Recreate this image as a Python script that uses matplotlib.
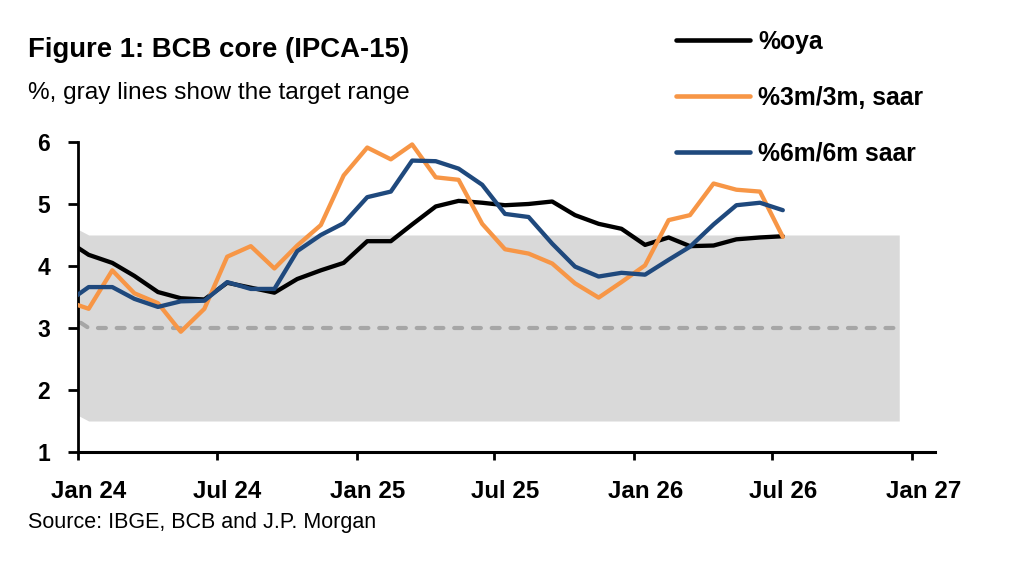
import matplotlib
matplotlib.use("Agg")
import matplotlib.pyplot as plt
import matplotlib.transforms as mtransforms
from matplotlib import font_manager
import pandas as pd

# IPCA-15 is collected mid-month, so points sit on the 15th
months = pd.date_range("2023-12-01", "2026-07-01", freq="MS") + pd.Timedelta(days=14)

oya = [4.43, 4.18, 4.05, 3.84, 3.58, 3.48, 3.46, 3.73, 3.65, 3.57, 3.79, 3.93, 4.05,
       4.40, 4.40, 4.67, 4.96, 5.05, 5.02, 4.98, 5.00, 5.04, 4.82, 4.68, 4.60,
       4.34, 4.46, 4.32, 4.33, 4.43, 4.46, 4.48]
saar_3m = [3.44, 3.31, 3.93, 3.56, 3.40, 2.94, 3.31, 4.15, 4.32, 3.96, 4.33, 4.66, 5.46,
           5.91, 5.72, 5.96, 5.43, 5.39, 4.68, 4.27, 4.20, 4.04, 3.72, 3.49, 3.74,
           4.01, 4.74, 4.82, 5.33, 5.23, 5.20, 4.47]
saar_6m = [3.39, 3.66, 3.66, 3.47, 3.34, 3.43, 3.44, 3.74, 3.63, 3.63, 4.24, 4.50, 4.69,
           5.11, 5.20, 5.70, 5.69, 5.57, 5.31, 4.84, 4.79, 4.36, 3.99, 3.83, 3.89,
           3.86, 4.10, 4.31, 4.67, 4.98, 5.02, 4.90]

# target range (gray band) and center (dashed)
band_dates = pd.to_datetime(["2023-12-15", "2024-01-15", "2026-12-15"])
band_hi = [4.70, 4.50, 4.50]
band_lo = [1.70, 1.50, 1.50]
target = [3.25, 3.00, 3.00]

tick_dates = pd.to_datetime(["2024-01-01", "2024-07-01", "2025-01-01", "2025-07-01",
                             "2026-01-01", "2026-07-01", "2027-01-01"])
tick_labels = ["Jan 24", "Jul 24", "Jan 25", "Jul 25", "Jan 26", "Jul 26", "Jan 27"]

names = [f.name for f in font_manager.fontManager.ttflist]
fam = "Liberation Sans Narrow" if "Liberation Sans Narrow" in names else "Liberation Sans"
plt.rcParams["font.family"] = [fam, "DejaVu Sans"]

fig = plt.figure(figsize=(10.2, 5.67), dpi=100)
ax = fig.add_axes([0.0765, 0.2028, 0.8402, 0.5468])

ax.fill_between(band_dates, band_lo, band_hi, color="#d9d9d9", lw=0, zorder=1)
ax.plot(band_dates, target, color="#a6a6a6", lw=3, ls=(0, (1.9, 2.6)), zorder=2,
        dash_capstyle="round")

ax.plot(months, oya, color="black", lw=3.1, label="%oya", zorder=3, solid_capstyle="round")
ax.plot(months, saar_3m, color="#f79646", lw=3.1, label="%3m/3m, saar", zorder=3,
        solid_capstyle="round")
ax.plot(months, saar_6m, color="#1f497d", lw=3.1, label="%6m/6m saar", zorder=4,
        solid_capstyle="round")

ax.set_xlim(pd.Timestamp("2024-01-01"), pd.Timestamp("2027-01-31"))
ax.set_ylim(1, 6)
ax.set_yticks([1, 2, 3, 4, 5, 6])
ax.set_xticks(tick_dates)
ax.set_xticklabels(tick_labels)

for s in ["top", "right"]:
    ax.spines[s].set_visible(False)
ax.spines["left"].set_linewidth(2)
ax.spines["bottom"].set_linewidth(2.2)
ax.tick_params(axis="y", direction="out", length=7, width=2, labelsize=16.5, pad=13)
ax.tick_params(axis="x", direction="out", length=6, width=2, labelsize=17.4, pad=14)
shift = mtransforms.ScaledTranslation(0.11, 0, fig.dpi_scale_trans)
for lab in ax.get_xticklabels():
    lab.set_fontweight("bold")
    lab.set_transform(lab.get_transform() + shift)
for lab in ax.get_yticklabels():
    lab.set_fontweight("bold")

fig.text(0.0275, 0.8995, "Figure 1: BCB core (IPCA-15)", fontsize=19.8, fontweight="bold",
         va="baseline")
fig.text(0.0275, 0.8254, "%, gray lines show the target range", fontsize=17.6, va="baseline")
fig.text(0.0275, 0.0688, "Source: IBGE, BCB and J.P. Morgan", fontsize=15.5, va="baseline")

leg = fig.legend(loc="upper left", bbox_to_anchor=(0.641, 0.987), frameon=False,
                 fontsize=17.8, handlelength=3.0, handletextpad=0.32, labelspacing=1.29)
for t in leg.get_texts():
    t.set_fontweight("bold")
for h in leg.get_lines():
    h.set_linewidth(3.3)

fig.savefig("out.png", dpi=100)
